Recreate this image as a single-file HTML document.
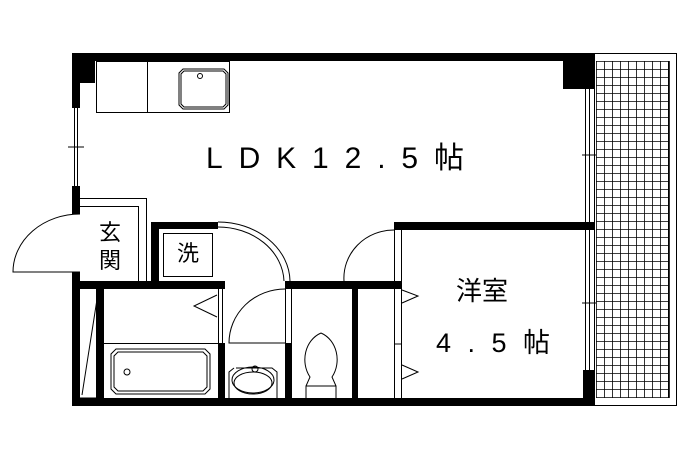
<!DOCTYPE html>
<html><head><meta charset="utf-8"><style>
html,body{margin:0;padding:0;background:#fff;width:690px;height:460px;overflow:hidden}
svg{display:block}
text{font-family:"Liberation Sans","Noto Sans CJK JP",sans-serif;fill:#000}
</style></head><body>
<svg width="690" height="460" viewBox="0 0 690 460" xmlns="http://www.w3.org/2000/svg">
<defs>
<pattern id="g" x="596" y="61" width="8" height="8" patternUnits="userSpaceOnUse">
<path d="M0 0H8M0 0V8" stroke="#000" stroke-width="1.6" fill="none"/>
</pattern>
</defs>
<rect x="594.5" y="53.5" width="82" height="352" fill="none" stroke="#000" stroke-width="1"/>
<rect x="596" y="61" width="73" height="337" fill="url(#g)"/>
<path d="M669 61V398" stroke="#000" stroke-width="1.6"/>
<g fill="#000">
<rect x="72" y="53" width="522" height="8"/>
<rect x="72" y="398" width="522" height="8"/>
<rect x="72" y="53" width="23" height="30"/>
<rect x="563" y="53" width="31" height="36"/>
<rect x="72" y="83" width="8" height="25"/>
<rect x="72" y="186" width="8" height="28"/>
<rect x="72" y="272" width="8" height="134"/>
<rect x="583" y="370" width="11" height="36"/>
<rect x="151" y="222" width="67" height="7"/>
<rect x="151" y="222" width="8" height="66"/>
<rect x="72" y="281" width="153" height="8"/>
<rect x="285" y="281" width="117" height="8"/>
<rect x="394" y="222" width="200" height="8"/>
<rect x="96" y="289" width="8" height="110"/>
<rect x="218" y="343" width="7" height="56"/>
<rect x="285" y="343" width="7" height="56"/>
<rect x="352" y="289" width="6" height="110"/>
</g>
<g fill="none" stroke="#000" stroke-width="1">
<path d="M74.5 108V186M77.5 108V186M68 147H84"/>
<path d="M585.5 89V222M589.5 89V222M585.5 230V370M589.5 230V370M582 155H596M582 303H596"/>
<rect x="96.5" y="61.5" width="133" height="51"/>
<path d="M147.5 62V112"/>
<path d="M183 69H224L228 73V105L224 109H183L179 105V73Z"/>
<path d="M184 71H223L226 74V104L223 107H184L181 104V74Z"/>
<circle cx="200" cy="76" r="2.5"/>
<path d="M80 214A67 58 0 0 0 13 272H80"/>
<path d="M80 198.5H146.5V281M80 206.5H138.5V281"/>
<rect x="163.5" y="233.5" width="49" height="43"/>
<path d="M218 222A72 60 0 0 1 290 281M218 227A66 56 0 0 1 284 281"/>
<path d="M218.5 289V343M222.5 289V343"/>
<path d="M285.5 289V343M291.5 289V343"/>
<path d="M104 343.5H225"/>
<path d="M217 295L194 306L217 317"/>
<path d="M116 349H205L210 354V389L205 394H116L111 389V354Z"/>
<path d="M118 352H203L207 356V387L203 391H118L114 387V356Z"/>
<circle cx="127" cy="372" r="3"/>
<path d="M98 293L82 395"/>
<path d="M80 398H96"/>
<path d="M285 289A56 54 0 0 0 229 343H285"/>
<path d="M236 368H272L277 372V398M229 398V372L234 368"/>
<ellipse cx="253" cy="380" rx="21" ry="13"/>
<ellipse cx="253" cy="383" rx="19" ry="11"/>
<circle cx="255" cy="369" r="3"/>
<path d="M321 333C305 340 300 362 310 377L306 386V398M321 333C337 340 342 362 332 377L336 386V398"/>
<path d="M306 386H336"/>
<path d="M394.5 230V398M401.5 230V398M394 344H402"/>
<path d="M402 290L418 296L402 303M402 365L418 372L402 379"/>
<path d="M394 230A50 48 0 0 0 344 281"/>
</g>
<text x="206" y="168" font-size="30" textLength="258" lengthAdjust="spacing">LDK12.5帖</text>
<text x="456" y="300" font-size="26">洋室</text>
<text x="436" y="352" font-size="27" textLength="114" lengthAdjust="spacing">4.5帖</text>
<text x="99" y="240" font-size="22">玄</text>
<text x="99" y="268" font-size="22">関</text>
<text x="177" y="261" font-size="22">洗</text>
</svg>
</body></html>
